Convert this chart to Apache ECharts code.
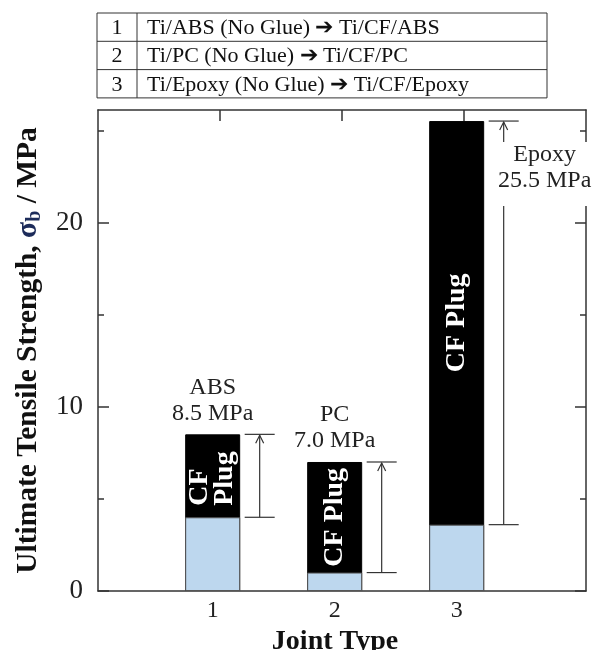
<!DOCTYPE html>
<html>
<head>
<meta charset="utf-8">
<script src="https://cdn.jsdelivr.net/npm/echarts@6/dist/echarts.min.js"></script>
<style>
    html, body { margin: 0; padding: 0; background: #fff; }
    #chart { width: 593px; height: 650px; }
</style>
</head>
<body>
<div id="chart"></div>
<script>
(function () {

    // data
    var JOINT_TYPES = [1, 2, 3];
    var NO_GLUE_PART = [4.0, 1.0, 3.6];
    var TOTAL_STRENGTH = [8.5, 7.0, 25.5];
    var MATRIX_NAMES = ['ABS', 'PC', 'Epoxy'];
    var PLUG_LABELS = ['{l|CF}\n{l|Plug}', 'CF Plug', 'CF Plug'];
    var TABLE_ROWS = [
        'Ti/ABS (No Glue) \u2794 Ti/CF/ABS',
        'Ti/PC (No Glue) \u2794 Ti/CF/PC',
        'Ti/Epoxy (No Glue) \u2794 Ti/CF/Epoxy'
    ];
    var Y_LABELS = [0, 10, 20];
    var Y_MINOR = [5, 15, 25];
    var Y_MAX = 26.1;

    var SERIF = '"Liberation Serif", "Times New Roman", serif';
    var AXIS_COLOR = '#333';

    var CHART = echarts.init(document.getElementById('chart'));

    //
    var totalData = JOINT_TYPES.map(function (x, i) {
        return [x, TOTAL_STRENGTH[i]];
    });

    var baseData = JOINT_TYPES.map(function (x, i) {
        return [x, NO_GLUE_PART[i]];
    });

    var rangeData = JOINT_TYPES.map(function (x, i) {
        return [x, NO_GLUE_PART[i], TOTAL_STRENGTH[i]];
    });

    // arrow from the no-glue level up to the CF plug level, with its label
    function renderDimension(params, api) {
        var x = api.value(0);
        var top = api.coord([x, api.value(2)]);
        var bottom = api.coord([x, api.value(1)]);
        var ceiling = api.coord([x, Y_MAX])[1];
        var lx = top[0] + 47;
        var text = MATRIX_NAMES[params.dataIndex] + '\n' + api.value(2).toFixed(1) + ' MPa';
        var stroke = { stroke: AXIS_COLOR, lineWidth: 1.2, fill: null };

        var label;
        if (top[1] - 62 > ceiling) {
            label = {
                type: 'text',
                style: {
                    text: text, x: top[0], y: top[1] - 8,
                    align: 'center', verticalAlign: 'bottom',
                    fontFamily: SERIF, fontSize: 24, lineHeight: 26, fill: '#222'
                }
            };
        } else {
            // no room above: put it beside the dimension line
            label = {
                type: 'text',
                style: {
                    text: text, x: lx + 41, y: top[1] + 21,
                    align: 'center', verticalAlign: 'top',
                    fontFamily: SERIF, fontSize: 24, lineHeight: 26, fill: '#222',
                    backgroundColor: '#fff', padding: [0, 10, 12, 10]
                }
            };
        }

        return {
            type: 'group',
            children: [
                { type: 'line', shape: { x1: lx, y1: top[1] + 1, x2: lx, y2: bottom[1] }, style: stroke },
                { type: 'line', shape: { x1: lx - 15, y1: top[1], x2: lx + 15, y2: top[1] }, style: stroke },
                { type: 'line', shape: { x1: lx - 15, y1: bottom[1], x2: lx + 15, y2: bottom[1] }, style: stroke },
                { type: 'polyline', shape: { points: [[lx - 4, top[1] + 9], [lx, top[1] + 1], [lx + 4, top[1] + 9]] }, style: stroke },
                label
            ]
        };
    }

    // "CF Plug" written up the black part of the bar
    function renderPlugLabel(params, api) {
        var x = api.value(0);
        var top = api.coord([x, api.value(2)]);
        var bottom = api.coord([x, api.value(1)]);
        return {
            type: 'text',
            x: top[0],
            y: (top[1] + bottom[1]) / 2,
            rotation: Math.PI / 2,
            style: {
                text: PLUG_LABELS[params.dataIndex],
                align: 'center',
                verticalAlign: 'middle',
                fontFamily: SERIF, fontSize: 28, fontWeight: 'bold', fill: '#fff', lineHeight: 25,
                rich: {
                    l: { width: 60, align: 'left', fontFamily: SERIF, fontSize: 28, fontWeight: 'bold', fill: '#fff', color: '#fff', lineHeight: 25 }
                }
            }
        };
    }

    //
    var tableTop = 13, rowH = 28.3, tableLeft = 97, tableRight = 547, numCol = 137;
    var tableGraphics = [{
        type: 'rect',
        shape: { x: tableLeft, y: tableTop, width: tableRight - tableLeft, height: rowH * 3 },
        style: { fill: null, stroke: '#333', lineWidth: 1 }
    }, {
        type: 'line',
        shape: { x1: numCol, y1: tableTop, x2: numCol, y2: tableTop + rowH * 3 },
        style: { stroke: '#333', lineWidth: 1 }
    }];
    TABLE_ROWS.forEach(function (row, i) {
        var cy = tableTop + rowH * i + rowH / 2;
        if (i > 0) {
            tableGraphics.push({
                type: 'line',
                shape: { x1: tableLeft, y1: tableTop + rowH * i, x2: tableRight, y2: tableTop + rowH * i },
                style: { stroke: '#333', lineWidth: 1 }
            });
        }
        tableGraphics.push({
            type: 'text',
            style: { text: String(JOINT_TYPES[i]), x: (tableLeft + numCol) / 2, y: cy + 1, align: 'center', verticalAlign: 'middle', fontFamily: SERIF, fontSize: 22, fill: '#111' }
        });
        tableGraphics.push({
            type: 'text',
            style: { text: row, x: numCol + 10, y: cy + 1, align: 'left', verticalAlign: 'middle', fontFamily: SERIF, fontSize: 22, fill: '#111' }
        });
    });

    //
    function tickAxis(position, length, values, withLine) {
        return {
            type: 'value',
            position: position,
            min: 0,
            max: Y_MAX,
            axisLine: { show: withLine, onZero: false, lineStyle: { color: AXIS_COLOR, width: 1.5 } },
            axisTick: { show: true, inside: true, length: length, customValues: values, lineStyle: { color: AXIS_COLOR, width: 1.5 } },
            axisLabel: { show: false },
            splitLine: { show: false }
        };
    }

    var leftAxis = tickAxis('left', 11, Y_LABELS, true);
    leftAxis.name = '{t|Ultimate Tensile Strength, }{s|\u03c3}{b|b}{t| / MPa}';
    leftAxis.nameLocation = 'middle';
    leftAxis.nameRotate = 90;
    leftAxis.nameGap = 48;
    leftAxis.nameTextStyle = {
        rich: {
            t: { fontFamily: SERIF, fontSize: 29.5, fontWeight: 'bold', color: '#111' },
            s: { fontFamily: SERIF, fontSize: 29.5, fontWeight: 'bold', color: '#1c2b5a' },
            b: { fontFamily: SERIF, fontSize: 20, fontWeight: 'bold', color: '#1c2b5a', padding: [13, 0, 0, 0] }
        }
    };
    leftAxis.axisLabel = { show: true, customValues: Y_LABELS, margin: 15, fontFamily: SERIF, fontSize: 27, color: '#222' };

    var option = {
        backgroundColor: '#fff',
        animation: false,
        grid: { left: 98, right: 7, top: 110, bottom: 59, containLabel: false, outerBoundsMode: 'none' },
        graphic: tableGraphics,
        xAxis: [{
            type: 'value',
            position: 'bottom',
            min: 0.06,
            max: 4.06,
            name: 'Joint Type',
            nameLocation: 'middle',
            nameGap: 26,
            nameTextStyle: { fontFamily: SERIF, fontSize: 28, fontWeight: 'bold', color: '#111', padding: [0, 14, 0, 0] },
            axisLine: { show: true, onZero: false, lineStyle: { color: AXIS_COLOR, width: 1.5 } },
            axisTick: { show: false },
            axisLabel: { customValues: JOINT_TYPES, margin: 8, fontFamily: SERIF, fontSize: 24, color: '#222' },
            splitLine: { show: false }
        }, {
            type: 'value',
            position: 'top',
            min: 0,
            max: 4,
            interval: 1,
            axisLine: { show: true, onZero: false, lineStyle: { color: AXIS_COLOR, width: 1.5 } },
            axisTick: { show: true, inside: true, length: 11, customValues: JOINT_TYPES, lineStyle: { color: AXIS_COLOR, width: 1.5 } },
            axisLabel: { show: false },
            splitLine: { show: false }
        }],
        yAxis: [
            leftAxis,
            tickAxis('left', 6, Y_MINOR, false),
            tickAxis('right', 11, Y_LABELS, true),
            tickAxis('right', 6, Y_MINOR, false)
        ],
        series: [{
            name: 'CF plug',
            type: 'bar',
            xAxisIndex: 0,
            yAxisIndex: 0,
            barWidth: 55,
            barGap: '-100%',
            data: totalData,
            itemStyle: { color: '#000', borderColor: '#000', borderWidth: 1 }
        }, {
            name: 'No glue',
            type: 'bar',
            xAxisIndex: 0,
            yAxisIndex: 0,
            barWidth: 55,
            barGap: '-100%',
            data: baseData,
            itemStyle: { color: '#bdd7ee', borderColor: '#555', borderWidth: 1 }
        }, {
            name: 'Plug label',
            type: 'custom',
            xAxisIndex: 0,
            yAxisIndex: 0,
            renderItem: renderPlugLabel,
            data: rangeData,
            z: 3
        }, {
            name: 'Dimension',
            type: 'custom',
            xAxisIndex: 0,
            yAxisIndex: 0,
            renderItem: renderDimension,
            data: rangeData,
            z: 3
        }]
    };

    CHART.setOption(option);

}());
</script>
</body>
</html>
